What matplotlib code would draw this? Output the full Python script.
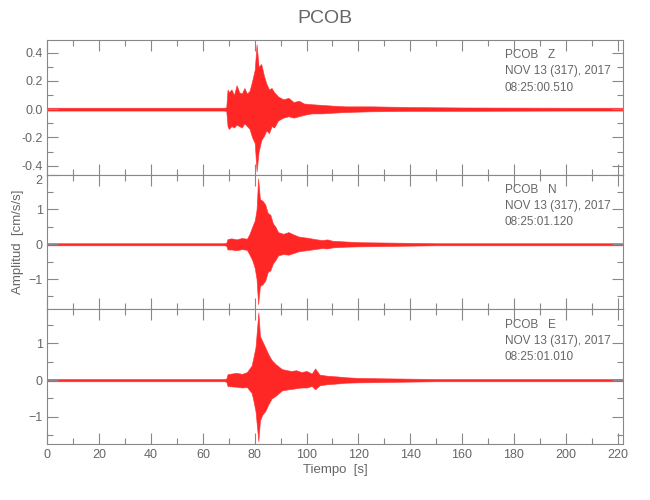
import numpy as np
import matplotlib
matplotlib.use('Agg')
import matplotlib.pyplot as plt
from matplotlib.ticker import MultipleLocator, FormatStrFormatter

plt.rcParams['font.family'] = ['Liberation Sans', 'DejaVu Sans']

# envolvente de las trazas, tiempo en s
t_z = [0, 68, 69, 69.5, 70, 71, 72, 73, 74, 75, 76, 77, 78, 79, 80, 80.7, 81.5,
       82.5, 83.5, 84.5, 85.5, 86.5, 87.5, 89, 91, 93, 95, 97, 99, 102, 106, 110,
       115, 125, 140, 160, 200, 222]
up_z = [0.01, 0.01, 0.012, 0.14, 0.12, 0.14, 0.10, 0.17, 0.12, 0.11, 0.15, 0.11,
        0.13, 0.20, 0.28, 0.46, 0.30, 0.32, 0.24, 0.18, 0.14, 0.15, 0.12, 0.09,
        0.07, 0.08, 0.05, 0.06, 0.04, 0.035, 0.03, 0.025, 0.02, 0.02, 0.015,
        0.012, 0.01, 0.01]
lo_z = [-0.01, -0.01, -0.012, -0.12, -0.14, -0.12, -0.13, -0.11, -0.12, -0.13,
        -0.10, -0.12, -0.14, -0.20, -0.24, -0.44, -0.30, -0.22, -0.19, -0.15,
        -0.17, -0.12, -0.13, -0.08, -0.06, -0.05, -0.06, -0.05, -0.04, -0.03,
        -0.03, -0.025, -0.02, -0.015, -0.012, -0.012, -0.01, -0.01]

t_n = [0, 68, 69, 69.5, 71, 73, 75, 77, 78, 79, 80, 80.7, 81.3, 82, 83, 84, 85,
       86, 87, 88, 89, 91, 93, 95, 97, 99, 101, 103, 106, 108, 110, 115, 120,
       130, 140, 150, 180, 222]
up_n = [0.03, 0.03, 0.04, 0.15, 0.17, 0.14, 0.18, 0.16, 0.30, 0.50, 0.68, 1.0,
        1.89, 1.30, 1.25, 1.15, 0.90, 0.85, 0.60, 0.50, 0.35, 0.30, 0.35, 0.28,
        0.22, 0.20, 0.18, 0.15, 0.12, 0.14, 0.10, 0.08, 0.06, 0.05, 0.04, 0.03,
        0.03, 0.03]
lo_n = [-0.03, -0.03, -0.04, -0.15, -0.15, -0.17, -0.14, -0.16, -0.30, -0.45,
        -0.68, -1.0, -1.72, -1.20, -1.15, -1.05, -0.80, -0.75, -0.55, -0.45,
        -0.32, -0.28, -0.30, -0.25, -0.20, -0.18, -0.16, -0.14, -0.11, -0.12,
        -0.09, -0.07, -0.06, -0.05, -0.04, -0.03, -0.03, -0.03]

t_e = [0, 68, 69, 69.5, 71, 73, 75, 77, 78.8, 79.5, 80.3, 81.4, 82, 83, 84, 85.3,
       86.5, 88, 90.5, 92, 94, 96, 98, 100, 102, 103.3, 105, 108, 112, 115,
       120, 130, 140, 150, 180, 222]
up_e = [0.03, 0.03, 0.04, 0.16, 0.18, 0.20, 0.17, 0.22, 0.40, 0.62, 0.90, 1.85,
        1.20, 1.05, 0.90, 0.70, 0.55, 0.44, 0.30, 0.28, 0.25, 0.27, 0.22, 0.25,
        0.18, 0.32, 0.15, 0.12, 0.10, 0.08, 0.06, 0.05, 0.04, 0.03, 0.03, 0.03]
lo_e = [-0.03, -0.03, -0.04, -0.16, -0.17, -0.18, -0.20, -0.19, -0.35, -0.56,
        -0.85, -1.66, -1.10, -0.93, -0.85, -0.65, -0.50, -0.43, -0.28, -0.26,
        -0.24, -0.22, -0.20, -0.20, -0.16, -0.25, -0.14, -0.11, -0.09, -0.07,
        -0.06, -0.05, -0.04, -0.03, -0.03, -0.03]

canales = ['Z', 'N', 'E']
horas = ['08:25:00.510', '08:25:01.120', '08:25:01.010']
ylims = [(-0.464, 0.49), (-1.87, 2.0), (-1.74, 1.93)]
ymaj = [0.2, 1, 1]
ymin = [0.1, 0.5, 0.5]
trazas = [(t_z, up_z, lo_z), (t_n, up_n, lo_n), (t_e, up_e, lo_e)]

gris = '#888888'
texto = '#666666'
fig, axs = plt.subplots(3, 1, figsize=(6.5, 5), dpi=100, sharex=True)
fig.subplots_adjust(left=0.073, right=0.958, top=0.92, bottom=0.112, hspace=0)

for i, ax in enumerate(axs):
    t, up, lo = trazas[i]
    ax.fill_between(t, lo, up, color='red', linewidth=0.5, edgecolor='#ff3030', alpha=0.85)
    ax.set_xlim(0, 222)
    ax.set_ylim(*ylims[i])
    ax.xaxis.set_major_locator(MultipleLocator(20))
    ax.xaxis.set_minor_locator(MultipleLocator(10))
    ax.yaxis.set_major_locator(MultipleLocator(ymaj[i]))
    ax.yaxis.set_minor_locator(MultipleLocator(ymin[i]))
    ax.tick_params(which='both', direction='in', top=True, right=True,
                   color=gris, labelcolor=texto, labelsize=9, width=0.8)
    ax.tick_params(which='major', length=8)
    ax.tick_params(which='minor', length=4)
    for s in ax.spines.values():
        s.set_color(gris)
        s.set_linewidth(0.8)
    ax.text(0.795, 0.93, 'PCOB   %s\nNOV 13 (317), 2017\n%s' % (canales[i], horas[i]),
            transform=ax.transAxes, va='top', ha='left', fontsize=8.5,
            color=texto, linespacing=1.45)

axs[0].yaxis.set_major_formatter(FormatStrFormatter('%.1f'))
# el "2" del panel central queda pegado al borde
fig.canvas.draw()
for lab in axs[1].get_yticklabels():
    if lab.get_text() == '2':
        lab.set_va('top')
axs[1].set_ylabel('Amplitud  [cm/s/s]', color=texto, fontsize=9.5)
axs[1].yaxis.set_label_coords(-0.04, 0.5)
axs[2].set_xlabel('Tiempo  [s]', color=texto, fontsize=9.5, labelpad=2)
fig.suptitle('PCOB', color=texto, fontsize=14, y=0.98)

plt.savefig('out.png', dpi=100)
